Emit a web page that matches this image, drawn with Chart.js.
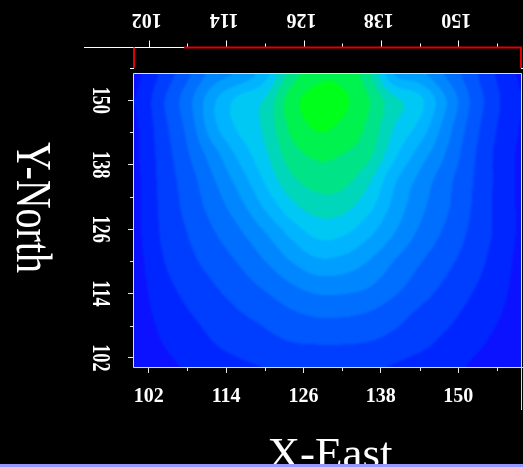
<!DOCTYPE html>
<html>
<head>
<meta charset="utf-8">
<script src="https://cdn.jsdelivr.net/npm/chart.js@4.4.1/dist/chart.umd.min.js"></script>
<style>
  html, body { margin: 0; padding: 0; background: #000; overflow: hidden; }
  #wrap { width: 523px; height: 467px; position: relative; }
</style>
</head>
<body>
<div id="wrap"><canvas id="c" width="523" height="467"></canvas></div>
<script>
// Grid node coordinates (East / North)
const xNodes = [100, 104, 108, 112, 116, 120, 124, 128, 132, 136, 140, 144, 148, 152, 156, 160];
const yNodes = [155, 150, 145, 140, 135, 130, 125, 120, 115, 110, 105, 100];

// Field level at each node, one row per North value (top row first)
const row155 = [0.8, 2.2, 3.8, 5.4, 6.2, 7.6, 10.4, 11.7, 11.7, 10.4, 7.0, 6.3, 4.9, 3.4, 1.9, 0.8];
const row150 = [1.0, 2.8, 4.6, 6.8, 8.3, 9.1, 11.5, 12.4, 12.2, 11.1, 9.3, 8.3, 6.1, 3.9, 2.2, 1.0];
const row145 = [0.9, 2.6, 4.3, 6.7, 8.2, 9.2, 11.2, 12.1, 11.8, 10.8, 9.0, 7.7, 5.6, 3.6, 2.0, 0.9];
const row140 = [0.9, 2.4, 3.9, 5.6, 7.3, 8.8, 10.5, 11.2, 11.0, 10.3, 8.3, 6.6, 5.0, 3.3, 1.8, 0.8];
const row135 = [0.8, 2.3, 3.5, 4.9, 6.4, 8.1, 9.7, 10.4, 10.3, 9.2, 7.2, 5.7, 4.4, 3.1, 1.8, 0.8];
const row130 = [0.8, 2.2, 3.3, 4.4, 5.6, 7.1, 8.6, 9.4, 9.3, 8.3, 6.7, 5.3, 4.2, 3.0, 1.8, 0.8];
const row125 = [0.8, 2.1, 3.0, 3.9, 4.8, 5.9, 7.2, 8.2, 8.1, 7.2, 6.0, 4.8, 3.8, 2.8, 1.8, 0.8];
const row120 = [0.7, 1.9, 2.7, 3.4, 4.1, 5.0, 6.0, 6.8, 6.7, 6.0, 5.0, 4.1, 3.3, 2.5, 1.6, 0.7];
const row115 = [0.6, 1.6, 2.3, 2.9, 3.5, 4.1, 4.8, 5.3, 5.3, 5.0, 4.3, 3.5, 2.8, 2.1, 1.4, 0.6];
const row110 = [0.5, 1.3, 1.9, 2.4, 2.9, 3.3, 3.8, 4.1, 4.1, 3.9, 3.4, 2.8, 2.3, 1.7, 1.1, 0.5];
const row105 = [0.3, 1.0, 1.5, 2.0, 2.4, 2.7, 3.0, 3.1, 3.1, 3.0, 2.7, 2.3, 1.8, 1.3, 0.8, 0.3];
const row100 = [0.1, 0.7, 1.1, 1.5, 1.8, 2.0, 2.2, 2.2, 2.2, 2.1, 1.9, 1.6, 1.3, 0.9, 0.5, 0.1];
const gridRows = [row155, row150, row145, row140, row135, row130, row125, row120, row115, row110, row105, row100];

// Axis ticks and labels
const xTicks = [102, 108, 114, 120, 126, 132, 138, 144, 150, 156];
const xLabels = [102, 114, 126, 138, 150];
const yTicks = [102, 108, 114, 120, 126, 132, 138, 144, 150];
const yLabels = [102, 114, 126, 138, 150];

// Contour band colours, lowest level first
const bandColors = [
  [10, 18, 255], [0, 38, 255], [0, 62, 255], [0, 86, 255], [0, 110, 255],
  [0, 134, 255], [0, 158, 255], [0, 180, 255], [0, 200, 245], [0, 214, 185],
  [0, 228, 135], [0, 242, 78], [0, 255, 26]
];

const SERIF = '"Liberation Serif", "Times New Roman", serif';

function catmull(p0, p1, p2, p3, t) {
  return 0.5 * ((2 * p1) + (-p0 + p2) * t + (2 * p0 - 5 * p1 + 4 * p2 - p3) * t * t +
    (-p0 + 3 * p1 - 3 * p2 + p3) * t * t * t);
}
function nodeIndex(nodes, v) {
  // fractional index of v along a monotonic node list
  const n = nodes.length;
  for (let i = 0; i < n - 1; i++) {
    const a = nodes[i], b = nodes[i + 1];
    const lo = Math.min(a, b), hi = Math.max(a, b);
    if (v >= lo && v <= hi) return i + (v - a) / (b - a);
  }
  return (Math.abs(v - nodes[0]) < Math.abs(v - nodes[n - 1])) ? 0 : n - 1;
}
function fieldAt(fc, fr) {
  const nR = gridRows.length, nC = gridRows[0].length;
  const g = (i, j) => gridRows[Math.min(nR - 1, Math.max(0, i))][Math.min(nC - 1, Math.max(0, j))];
  const c = Math.min(nC - 2, Math.floor(fc)), r = Math.min(nR - 2, Math.floor(fr));
  const tx = fc - c, ty = fr - r;
  const rv = [];
  for (let k = -1; k <= 2; k++) {
    const i = r + k;
    rv.push(catmull(g(i, c - 1), g(i, c), g(i, c + 1), g(i, c + 2), tx));
  }
  return catmull(rv[0], rv[1], rv[2], rv[3], ty);
}

const nodePoints = [];
yNodes.forEach((y, i) => xNodes.forEach((x, j) => nodePoints.push({ x: x, y: y, v: gridRows[i][j] })));

const background = {
  id: 'background',
  beforeDraw(chart) {
    const ctx = chart.ctx;
    ctx.save();
    ctx.fillStyle = '#000';
    ctx.fillRect(0, 0, chart.width, chart.height);
    ctx.restore();
  }
};

// Filled contour field painted through the chart's scales
const contourFill = {
  id: 'contourFill',
  beforeDatasetsDraw(chart) {
    const area = chart.chartArea, xs = chart.scales.x, ys = chart.scales.y;
    const left = Math.round(area.left), top = Math.round(area.top);
    const w = Math.round(area.right) - left, h = Math.round(area.bottom) - top;
    const off = document.createElement('canvas');
    off.width = w; off.height = h;
    const octx = off.getContext('2d');
    const img = octx.createImageData(w, h);
    const colIdx = [], rowIdx = [];
    for (let i = 0; i < w; i++) colIdx.push(nodeIndex(xNodes, xs.getValueForPixel(left + i + 0.5)));
    for (let j = 0; j < h; j++) rowIdx.push(nodeIndex(yNodes, ys.getValueForPixel(top + j + 0.5)));
    for (let j = 0; j < h; j++) {
      for (let i = 0; i < w; i++) {
        const v = fieldAt(colIdx[i], rowIdx[j]);
        const lvl = Math.max(0, Math.min(bandColors.length - 1, Math.floor(v)));
        const col = bandColors[lvl];
        const p = (j * w + i) * 4;
        img.data[p] = col[0]; img.data[p + 1] = col[1]; img.data[p + 2] = col[2]; img.data[p + 3] = 255;
      }
    }
    octx.putImageData(img, 0, 0);
    const ctx = chart.ctx;
    ctx.save();
    ctx.beginPath();
    ctx.rect(left, top, w, h);
    ctx.clip();
    ctx.drawImage(off, left, top);
    ctx.filter = 'blur(0.8px)';
    ctx.drawImage(off, left, top);
    ctx.restore();
  }
};

// Frame, mirrored top axis, rotated vertical labels and axis titles
const decorations = {
  id: 'decorations',
  afterDraw(chart) {
    const ctx = chart.ctx, area = chart.chartArea, xs = chart.scales.x, ys = chart.scales.y;
    ctx.save();
    // frame around the field
    ctx.strokeStyle = '#dcdcdc';
    ctx.lineWidth = 1;
    ctx.beginPath();
    ctx.moveTo(area.left - 0.5, area.top - 0.5);
    ctx.lineTo(area.right - 0.5, area.top - 0.5);
    ctx.moveTo(area.right - 0.5, area.top - 0.5);
    ctx.lineTo(area.right - 0.5, 410);
    ctx.moveTo(area.left - 0.5, area.top - 0.5);
    ctx.lineTo(area.left - 0.5, area.bottom + 0.5);
    ctx.moveTo(area.left - 0.5, area.bottom + 0.5);
    ctx.lineTo(area.right - 0.5, area.bottom + 0.5);
    ctx.stroke();

    // minor ticks, bottom and left
    ctx.strokeStyle = '#e6e6e6';
    ctx.beginPath();
    xTicks.filter(v => !xLabels.includes(v)).forEach(v => {
      const px = Math.round(xs.getPixelForValue(v)) + 0.5;
      ctx.moveTo(px, area.bottom); ctx.lineTo(px, area.bottom + 4);
    });
    yTicks.filter(v => !yLabels.includes(v)).forEach(v => {
      const py = Math.round(ys.getPixelForValue(v)) + 0.5;
      ctx.moveTo(area.left - 4, py); ctx.lineTo(area.left, py);
    });
    ctx.stroke();

    // top axis: white lead-in, red box, ticks and upside-down labels
    const topY = 47.5;
    ctx.strokeStyle = '#ffffff';
    ctx.beginPath();
    ctx.moveTo(84, topY); ctx.lineTo(184, topY);
    xTicks.forEach(v => {
      const px = Math.round(xs.getPixelForValue(v)) + 0.5;
      const len = xLabels.includes(v) ? 7 : 4;
      ctx.moveTo(px, topY - len); ctx.lineTo(px, topY);
    });
    ctx.moveTo(130, 68.5); ctx.lineTo(area.left, 68.5);
    ctx.moveTo(area.right - 1, 68.5); ctx.lineTo(area.right + 1, 68.5);
    ctx.stroke();
    ctx.strokeStyle = '#e00000';
    ctx.lineWidth = 2;
    ctx.beginPath();
    ctx.moveTo(184, topY); ctx.lineTo(area.right, topY);
    ctx.moveTo(area.left, topY); ctx.lineTo(area.left, 68);
    ctx.moveTo(area.right - 1, topY); ctx.lineTo(area.right - 1, 68);
    ctx.stroke();

    ctx.fillStyle = '#ffffff';
    ctx.font = 'bold 20px ' + SERIF;
    ctx.textAlign = 'center';
    ctx.textBaseline = 'alphabetic';
    xLabels.forEach(v => {
      const px = xs.getPixelForValue(v) - 2;
      ctx.save();
      ctx.translate(px, 14);
      ctx.rotate(Math.PI);
      ctx.fillText(String(v), 0, 0);
      ctx.restore();
    });

    // left tick labels, rotated to read downward
    ctx.font = 'bold 26px ' + SERIF;
    yLabels.forEach(v => {
      const py = ys.getPixelForValue(v);
      ctx.save();
      ctx.translate(93, py);
      ctx.rotate(Math.PI / 2);
      ctx.scale(0.7, 1);
      ctx.fillText(String(v), 0, 0);
      ctx.restore();
    });

    // axis titles
    ctx.font = '51px ' + SERIF;
    const tw = ctx.measureText('Y-North').width;
    ctx.save();
    ctx.translate(17, 207.5);
    ctx.rotate(Math.PI / 2);
    ctx.scale(131 / tw, 1);
    ctx.fillText('Y-North', 0, 0);
    ctx.restore();

    ctx.font = '45px ' + SERIF;
    ctx.fillText('X-East', 330, 468);

    // bottom frame strip
    ctx.fillStyle = '#9696ff';
    ctx.fillRect(0, 464, chart.width, 3);
    ctx.restore();
  }
};

new Chart(document.getElementById('c'), {
  type: 'scatter',
  data: { datasets: [{ data: nodePoints, pointRadius: 0, pointHoverRadius: 0 }] },
  options: {
    responsive: false,
    animation: false,
    events: [],
    layout: { padding: { top: 74, right: 1, left: 0, bottom: 0 } },
    plugins: { legend: { display: false }, tooltip: { enabled: false } },
    scales: {
      x: {
        type: 'linear', position: 'bottom', min: 99.7, max: 159.9,
        afterBuildTicks: s => { s.ticks = xTicks.map(v => ({ value: v })); },
        afterFit: s => { s.height = 100; },
        ticks: {
          autoSkip: false, maxRotation: 0, minRotation: 0, padding: 12, color: '#ffffff',
          font: { family: SERIF, size: 20, weight: 'bold' },
          callback: v => xLabels.includes(v) ? String(v) : ''
        },
        grid: {
          display: true, drawOnChartArea: false, drawTicks: true, tickLength: 6, tickWidth: 1,
          tickColor: c => (c.tick && xLabels.includes(c.tick.value)) ? '#e6e6e6' : 'rgba(0,0,0,0)'
        },
        border: { display: true, color: '#dcdcdc', width: 1 }
      },
      y: {
        type: 'linear', position: 'left', min: 100.3, max: 154.9,
        afterBuildTicks: s => { s.ticks = yTicks.map(v => ({ value: v })); },
        afterFit: s => { s.width = 134; },
        ticks: { display: false },
        grid: {
          display: true, drawOnChartArea: false, drawTicks: true, tickLength: 6, tickWidth: 1,
          tickColor: c => (c.tick && yLabels.includes(c.tick.value)) ? '#e6e6e6' : 'rgba(0,0,0,0)'
        },
        border: { display: true, color: '#dcdcdc', width: 1 }
      }
    }
  },
  plugins: [background, contourFill, decorations]
});
</script>
</body>
</html>
